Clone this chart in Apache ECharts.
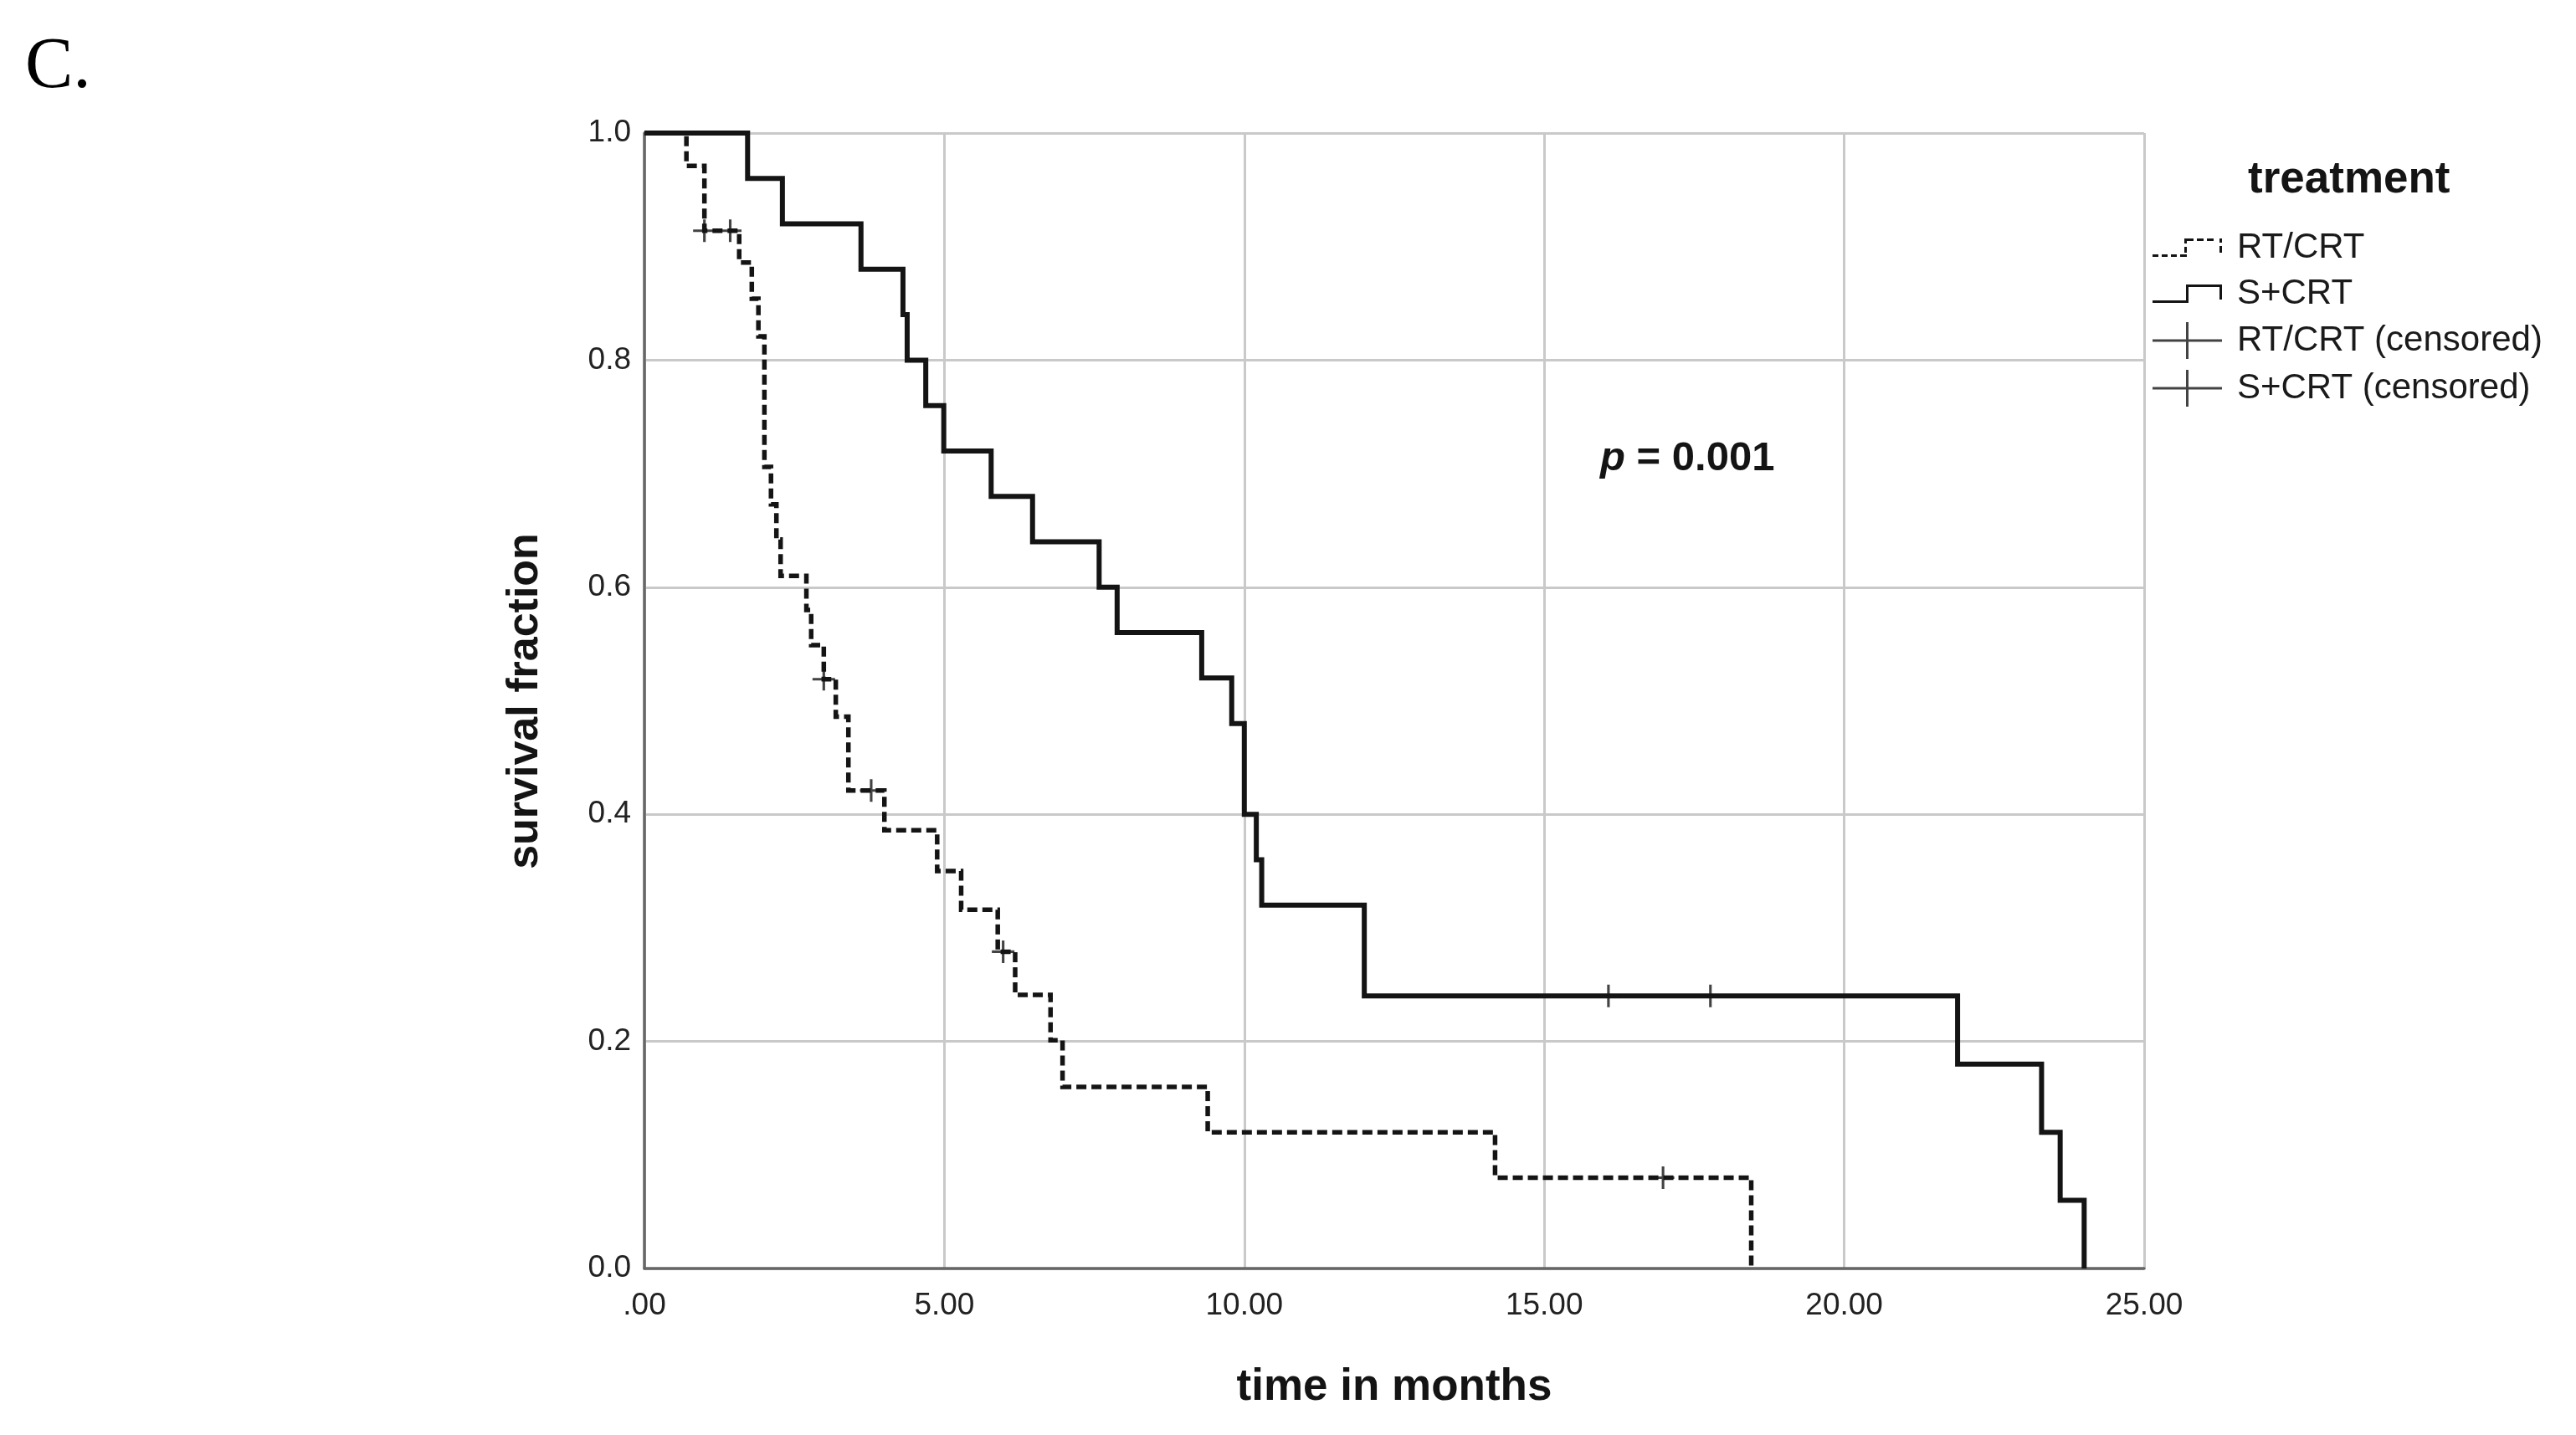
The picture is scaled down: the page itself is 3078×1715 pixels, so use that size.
<!DOCTYPE html>
<html>
<head>
<meta charset="utf-8">
<script src="https://cdn.jsdelivr.net/npm/echarts@6/dist/echarts.min.js"></script>
<style>
html,body{margin:0;padding:0;background:#ffffff;}
#chart{width:3078px;height:1715px;}
</style>
</head>
<body>
<div id="chart"></div>
<script>
// ---- data (time in months, survival fraction) ----
const rtcrtSteps = [
  [0, 1], [0.70, 0.971], [1.00, 0.914], [1.58, 0.886], [1.79, 0.854], [1.90, 0.821],
  [2.00, 0.706], [2.11, 0.673], [2.20, 0.642], [2.27, 0.610], [2.70, 0.580], [2.78, 0.549],
  [2.99, 0.519], [3.19, 0.486], [3.40, 0.421], [4.00, 0.386], [4.88, 0.350], [5.28, 0.316],
  [5.89, 0.279], [6.18, 0.241], [6.77, 0.201], [6.97, 0.160], [9.39, 0.120], [14.18, 0.080],
  [18.45, 0]
];
const scrtSteps = [
  [0, 1], [1.72, 0.96], [2.30, 0.92], [3.61, 0.88], [4.31, 0.84], [4.38, 0.80], [4.69, 0.76],
  [4.99, 0.72], [5.78, 0.68], [6.47, 0.64], [7.58, 0.60], [7.88, 0.56], [9.29, 0.52],
  [9.79, 0.48], [10.00, 0.40], [10.20, 0.36], [10.29, 0.32], [12.00, 0.24], [21.89, 0.18],
  [23.29, 0.12], [23.60, 0.06], [24.00, 0]
];
const rtcrtCensored = [[1.00, 0.914], [1.43, 0.914], [2.99, 0.519], [3.78, 0.421], [5.98, 0.279], [16.98, 0.080]];
const scrtCensored = [[16.07, 0.24], [17.77, 0.24]];
const seriesNames = ['RT/CRT', 'S+CRT', 'RT/CRT (censored)', 'S+CRT (censored)'];
const xTickLabels = ['.00', '5.00', '10.00', '15.00', '20.00', '25.00'];
const pValueText = '0.001';

// ---- styling ----
const INK = '#141414';
const FONT = '"Liberation Sans", Arial, sans-serif';
const plusSymbol = 'path://M-1.5,-13h3v26h-3z M-13,-1.5h26v3h-26z';
const censorIcon = 'path://M0,20.5H40V0H43V20.5H83V23.5H43V44H40V23.5H0Z';
const stepIcon = 'path://M0,19H40V0H83V18H80V3H43V22H0Z';
const dashIcon = 'path://M0,19h7v3h-7z M11,19h7v3h-7z M22,19h7v3h-7z M33,19h8v3h-8z ' +
  'M38,10h3v7h-3z M38,0h3v6h-3z M41,0h8v3h-8z M53,0h8v3h-8z M65,0h8v3h-8z ' +
  'M80,0h3v5h-3z M80,9h3v8h-3z';

const chart = echarts.init(document.getElementById('chart'), null, {renderer: 'canvas'});
chart.setOption({
  animation: false,
  backgroundColor: '#ffffff',
  grid: {left: 770, top: 159, right: 516, bottom: 199, containLabel: false},
  xAxis: {
    type: 'value', min: 0, max: 25, interval: 5,
    axisLine: {show: true, lineStyle: {color: '#666666', width: 3.5}},
    axisTick: {show: false},
    splitLine: {show: true, lineStyle: {color: '#c9c9c9', width: 3}},
    axisLabel: {
      fontSize: 37, fontFamily: FONT, color: '#222', margin: 26,
      formatter: v => xTickLabels[Math.round(v / 5)]
    },
    name: 'time in months', nameLocation: 'middle', nameGap: 116,
    nameTextStyle: {fontSize: 53, fontWeight: 'bold', fontFamily: FONT, color: INK}
  },
  yAxis: {
    type: 'value', min: 0, max: 1, interval: 0.2,
    axisLine: {show: true, lineStyle: {color: '#666666', width: 3.5}},
    axisTick: {show: false},
    splitLine: {show: true, lineStyle: {color: '#c9c9c9', width: 3}},
    axisLabel: {
      fontSize: 37, fontFamily: FONT, color: '#222', margin: 16,
      formatter: v => v.toFixed(1)
    }
  },
  legend: {
    orient: 'vertical', left: 2567, top: 270,
    itemWidth: 83, itemHeight: 44, itemGap: 13,
    selectedMode: false,
    itemStyle: {borderWidth: 0},
    textStyle: {fontSize: 42, fontFamily: FONT, color: '#1a1a1a', padding: [4, 0, 0, 13]},
    data: [
      {name: seriesNames[0], icon: dashIcon},
      {name: seriesNames[1], icon: stepIcon},
      {name: seriesNames[2], icon: censorIcon},
      {name: seriesNames[3], icon: censorIcon}
    ]
  },
  series: [
    {
      name: seriesNames[0], type: 'line', step: 'end', data: rtcrtSteps,
      symbol: 'none', color: INK, z: 3,
      lineStyle: {color: INK, width: 5.5, type: [12, 6], join: 'miter'}
    },
    {
      name: seriesNames[1], type: 'line', step: 'end', data: scrtSteps,
      symbol: 'none', color: INK, z: 3,
      lineStyle: {color: INK, width: 6, type: 'solid', join: 'miter'}
    },
    {
      name: seriesNames[2], type: 'scatter', data: rtcrtCensored,
      symbol: plusSymbol, symbolSize: 27, z: 4,
      itemStyle: {color: INK}
    },
    {
      name: seriesNames[3], type: 'scatter', data: scrtCensored,
      symbol: plusSymbol, symbolSize: 27, z: 4,
      itemStyle: {color: INK}
    }
  ],
  graphic: [
    {type: 'text', left: 30, top: 38, style: {text: 'C.', font: '86px "Liberation Serif", serif', fill: '#000'}},
    {type: 'text', x: 628, y: 838, rotation: Math.PI / 2,
      style: {text: 'survival fraction', font: 'bold 52px ' + FONT, fill: INK, align: 'center', verticalAlign: 'middle'}},
    {type: 'text', x: 1912, y: 548,
      style: {
        text: '{i|p} = ' + pValueText,
        font: 'bold 49px ' + FONT, fill: INK, verticalAlign: 'middle', align: 'left',
        rich: {i: {fontStyle: 'italic', fontWeight: 'bold', fontSize: 49, fontFamily: FONT, fill: INK}}
      }},
    {type: 'text', x: 2686, y: 215,
      style: {text: 'treatment', font: 'bold 53px ' + FONT, fill: INK, verticalAlign: 'middle', align: 'left'}}
  ]
});
</script>
</body>
</html>
